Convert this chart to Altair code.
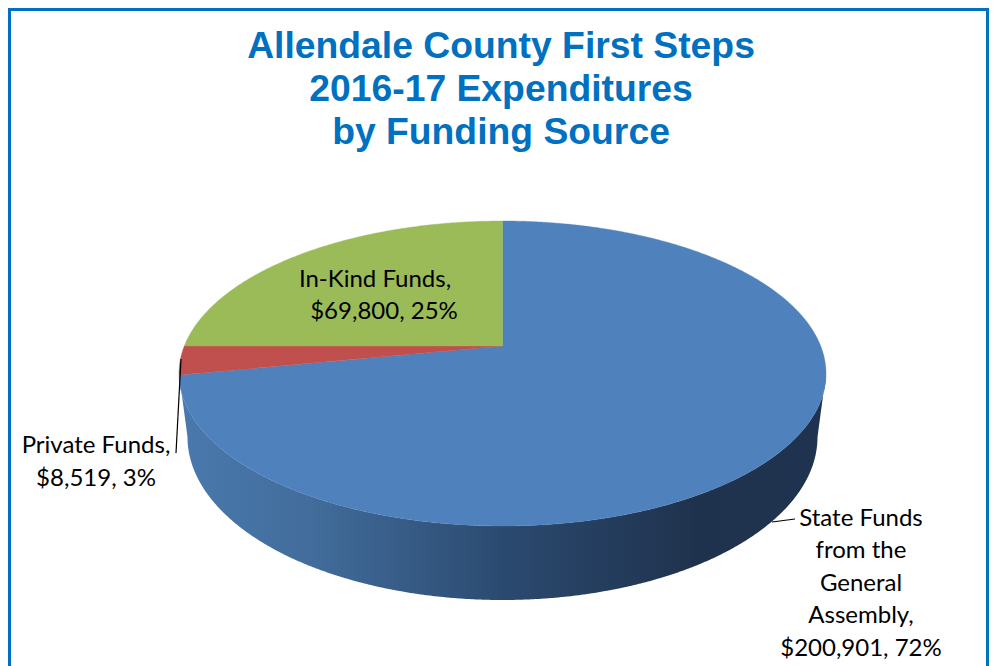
import numpy as np
import pandas as pd
import altair as alt

# ---- data
SOURCES = ["State Funds from the General Assembly", "Private Funds", "In-Kind Funds"]
AMOUNTS = [200901, 8519, 69800]
SLICE_COLORS = ["#4f81bd", "#c0504d", "#9bbb59"]
TITLE_LINES = ["Allendale County First Steps", "2016-17 Expenditures", "by Funding Source"]
LABEL_LINES = ["In-Kind Funds,", "$69,800, 25%",
               "Private Funds,", "$8,519, 3%",
               "State Funds", "from the", "General", "Assembly,", "$200,901, 72%"]

# ---- layout (reference picture pixels)
W, H = 981, 658
OX, OY = 8, 8
APEX_X, APEX_Y = 502.5, 346
FAR, NEAR = 125, 180
HALF_W = 323.5
LOW_CX, LOW_CY, LOW_A, LOW_B = 502.5, 437, 315, 163
TITLE_POS = [(501, 58), (501, 101), (501, 144)]
LABEL_POS = [(375, 287), (384, 319), (96, 453), (96, 486),
             (861, 526), (861, 558), (861, 591), (861, 623), (861, 656)]
LEADERS = [((181, 359), (176, 453)), ((772, 522), (795, 519))]
WALL_STOPS = [(0.0, "#4a79ae"), (0.2, "#426d9c"), (0.5, "#2b4a70"), (0.8, "#1f324d"), (1.0, "#1f3350")]
BLUE = "#0070c0"

# perspective of the pie's top face
k = (NEAR - FAR) / (NEAR + FAR)
g = FAR * (1 + k)
f = HALF_W * np.sqrt(1 - k * k)


def project(theta):
    u, v = np.sin(theta), np.cos(theta)
    d = 1 + k * v
    return APEX_X + f * u / d, APEX_Y - g * v / d


def envelope(px, py, extra=()):
    """Upper and lower edge of a closed outline, one row per x."""
    xs = np.unique(np.concatenate([px, np.array(extra, dtype=float)]))
    n = len(px)
    rows = []
    for x in xs:
        hits = []
        for i in range(n):
            x1, y1, x2, y2 = px[i], py[i], px[(i + 1) % n], py[(i + 1) % n]
            if min(x1, x2) - 1e-9 <= x <= max(x1, x2) + 1e-9:
                if abs(x2 - x1) < 1e-9:
                    hits += [y1, y2]
                else:
                    hits.append(y1 + (y2 - y1) * (x - x1) / (x2 - x1))
        if hits:
            rows.append({"x": x, "y": min(hits), "y2": max(hits)})
    return pd.DataFrame(rows)


xs = alt.Scale(domain=[OX, OX + W], range=[0, W], nice=False, zero=False)
ys = alt.Scale(domain=[OY, OY + H], range=[0, H], nice=False, zero=False)
X = lambda f_="x": alt.X(f"{f_}:Q", scale=xs, axis=None)
Y = lambda f_="y": alt.Y(f"{f_}:Q", scale=ys, axis=None)

# side wall
cx_top, cy_top = APEX_X, APEX_Y + (NEAR - FAR) / 2
a_top, b_top = HALF_W, (NEAR + FAR) / 2
t = np.linspace(0, np.pi, 361)
wall_x = np.concatenate([cx_top + a_top * np.cos(t), LOW_CX + LOW_A * np.cos(t[::-1])])
wall_y = np.concatenate([cy_top + b_top * np.sin(t), LOW_CY + LOW_B * np.sin(t[::-1])])
wall = alt.Chart(envelope(wall_x, wall_y)).mark_area(
    color=alt.Gradient(gradient="linear", x1=0, x2=1, y1=0, y2=0,
                       stops=[alt.GradientStop(offset=o, color=c) for o, c in WALL_STOPS])
).encode(x=X(), y=Y(), y2=alt.Y2("y2:Q"))

# top face slices, clockwise from twelve o'clock
layers = [wall]
start = 0.0
total = sum(AMOUNTS)
for name, amount, color in zip(SOURCES, AMOUNTS, SLICE_COLORS):
    end = start + amount / total * 2 * np.pi
    th = np.linspace(start, end, max(int((end - start) * 120), 8))
    ax, ay = project(th)
    px = np.concatenate([[APEX_X], ax])
    py = np.concatenate([[APEX_Y], ay])
    df = envelope(px, py, extra=(APEX_X - 1e-6, APEX_X + 1e-6))
    layers.append(alt.Chart(df).mark_area(color=color, stroke=color, strokeWidth=0.4)
                  .encode(x=X(), y=Y(), y2=alt.Y2("y2:Q")))
    start = end

# leaders
leader_df = pd.DataFrame([{"x": a[0], "y": a[1], "x2": b[0], "y2": b[1]} for a, b in LEADERS])
layers.append(alt.Chart(leader_df).mark_rule(color="#000000", strokeWidth=1.2)
              .encode(x=X(), y=Y(), x2="x2:Q", y2="y2:Q"))

# labels
label_df = pd.DataFrame({"t": LABEL_LINES, "x": [p[0] for p in LABEL_POS], "y": [p[1] for p in LABEL_POS]})
layers.append(alt.Chart(label_df).mark_text(font="Lato", fontSize=24, color="#000000", align="center",
                                            baseline="alphabetic", clip=False)
              .encode(x=X(), y=Y(), text="t:N"))
title_df = pd.DataFrame({"t": TITLE_LINES, "x": [p[0] for p in TITLE_POS], "y": [p[1] for p in TITLE_POS]})
layers.append(alt.Chart(title_df).mark_text(font="Liberation Sans", fontWeight="bold", fontSize=37.3, color=BLUE,
                                            align="center", baseline="alphabetic")
              .encode(x=X(), y=Y(), text="t:N"))

# frame
frame_df = pd.DataFrame([
    {"x": OX, "y": OY + 1.5, "x2": OX + W, "y2": OY + 1.5},
    {"x": OX + 1.5, "y": OY, "x2": OX + 1.5, "y2": OY + H},
    {"x": OX + W - 1.5, "y": OY, "x2": OX + W - 1.5, "y2": OY + H},
])
layers.append(alt.Chart(frame_df).mark_rule(color=BLUE, strokeWidth=3)
              .encode(x=X(), y=Y(), x2="x2:Q", y2="y2:Q"))

chart = alt.layer(*layers).properties(
    width=W, height=H, padding=0, autosize=alt.AutoSizeParams(type="none"), background="#ffffff"
).configure_view(stroke=None)

chart.save("out.html", embed_options={"renderer": "svg", "actions": False})
